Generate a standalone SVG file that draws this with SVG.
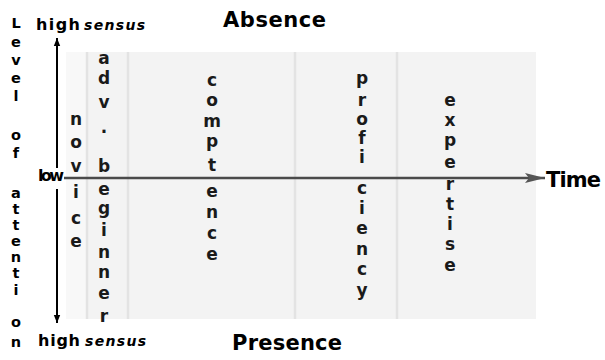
<svg xmlns="http://www.w3.org/2000/svg" width="605" height="360" viewBox="0 0 605 360">
<defs>
<style>
.lv{font-family:"DejaVu Sans",sans-serif;font-weight:bold;font-size:14.5px;fill:#000;text-anchor:middle}
.col{font-family:"DejaVu Sans",sans-serif;font-weight:bold;font-size:17px;fill:#1a1a1a;text-anchor:middle}
.hi{font-family:"DejaVu Sans",sans-serif;font-weight:bold;font-size:16px;fill:#000}
.se{font-family:"DejaVu Sans",sans-serif;font-weight:bold;font-style:italic;font-size:14px;fill:#000}
.big{font-family:"DejaVu Sans",sans-serif;font-weight:bold;font-size:21px;fill:#000}
.div{stroke:#e3e3e3;stroke-width:2.5}
</style>
<marker id="ah" viewBox="0 0 10 10" refX="10" refY="5" markerWidth="8" markerHeight="8" markerUnits="userSpaceOnUse" orient="auto"><path d="M0,1 L10,5 L0,9 Z" fill="#000"/></marker>
<marker id="ahg" viewBox="0 0 20 10" refX="20" refY="5" markerWidth="20" markerHeight="10" markerUnits="userSpaceOnUse" orient="auto"><path d="M0,0 L20,5 L0,10 L4,5 Z" fill="#555"/></marker>
</defs>
<rect width="605" height="360" fill="#fff"/>
<g id="panel">
<rect x="66" y="52" width="20" height="267" fill="#f8f8f8"/>
<rect x="86" y="52" width="450" height="267" fill="#f3f3f3"/>
<line class="div" x1="87" y1="52" x2="87" y2="319"/>
<line class="div" x1="128" y1="52" x2="128" y2="319"/>
<line class="div" x1="295" y1="52" x2="295" y2="319"/>
<line class="div" x1="397" y1="52" x2="397" y2="319"/>
</g>
<g id="connectors">
<line x1="57" y1="168" x2="57" y2="38" stroke="#000" stroke-width="2" marker-end="url(#ah)"/>
<line x1="57" y1="189" x2="57" y2="323" stroke="#000" stroke-width="2" marker-end="url(#ah)"/>
<line x1="64" y1="178" x2="545" y2="178" stroke="#4a4a4a" stroke-width="2.5" marker-end="url(#ahg)"/>
</g>
<g id="y-axis-label">
<text class="lv" x="16" y="28">L</text>
<text class="lv" x="16" y="47">e</text>
<text class="lv" x="16" y="65">v</text>
<text class="lv" x="16" y="83">e</text>
<text class="lv" x="16" y="101">l</text>
<text class="lv" x="16" y="140">o</text>
<text class="lv" x="16" y="158">f</text>
<text class="lv" x="16" y="198">a</text>
<text class="lv" x="16" y="214">t</text>
<text class="lv" x="16" y="230">t</text>
<text class="lv" x="16" y="246">e</text>
<text class="lv" x="16" y="262">n</text>
<text class="lv" x="16" y="278">t</text>
<text class="lv" x="16" y="295">i</text>
<text class="lv" x="16" y="327">o</text>
<text class="lv" x="16" y="347">n</text>
</g>
<g id="top-label">
<text class="hi" x="36" y="30" textLength="44">high</text>
<text class="se" x="84" y="30" textLength="61">sensus</text>
</g>
<g id="bottom-label">
<text class="hi" x="38" y="346" textLength="42">high</text>
<text class="se" x="85" y="346" textLength="61">sensus</text>
</g>
<g id="low-label"><text class="hi" x="38" y="181" font-size="14" textLength="26">low</text></g>
<g id="absence"><text class="big" x="223" y="27" textLength="103">Absence</text></g>
<g id="presence"><text class="big" x="232" y="350" textLength="110">Presence</text></g>
<g id="time"><text class="big" x="546" y="187" font-weight="normal" font-size="22" textLength="55">Time</text></g>
<g id="novice">
<text class="col" x="76" y="125">n</text>
<text class="col" x="76" y="148">o</text>
<text class="col" x="76" y="172">v</text>
<text class="col" x="76" y="198">i</text>
<text class="col" x="76" y="224">c</text>
<text class="col" x="76" y="247">e</text>
</g>
<g id="adv-beginner">
<text class="col" x="104" y="64">a</text>
<text class="col" x="104" y="84">d</text>
<text class="col" x="104" y="108">v</text>
<text class="col" x="104" y="133">.</text>
<text class="col" x="104" y="172">b</text>
<text class="col" x="104" y="195">e</text>
<text class="col" x="104" y="214">g</text>
<text class="col" x="104" y="236">i</text>
<text class="col" x="104" y="258">n</text>
<text class="col" x="104" y="278">n</text>
<text class="col" x="104" y="299">e</text>
<text class="col" x="104" y="322">r</text>
</g>
<g id="competence">
<text class="col" x="212" y="86">c</text>
<text class="col" x="212" y="106">o</text>
<text class="col" x="212" y="127">m</text>
<text class="col" x="212" y="147">p</text>
<text class="col" x="212" y="171">t</text>
<text class="col" x="212" y="197">e</text>
<text class="col" x="212" y="218">n</text>
<text class="col" x="212" y="239">c</text>
<text class="col" x="212" y="260">e</text>
</g>
<g id="proficiency">
<text class="col" x="362" y="84">p</text>
<text class="col" x="362" y="106">r</text>
<text class="col" x="362" y="125">o</text>
<text class="col" x="362" y="144">f</text>
<text class="col" x="362" y="163">i</text>
<text class="col" x="362" y="194">c</text>
<text class="col" x="362" y="214">i</text>
<text class="col" x="362" y="234">e</text>
<text class="col" x="362" y="255">n</text>
<text class="col" x="362" y="275">c</text>
<text class="col" x="362" y="296">y</text>
</g>
<g id="expertise">
<text class="col" x="450" y="106">e</text>
<text class="col" x="450" y="126">x</text>
<text class="col" x="450" y="146">p</text>
<text class="col" x="450" y="168">e</text>
<text class="col" x="450" y="190">r</text>
<text class="col" x="450" y="210">t</text>
<text class="col" x="450" y="230">i</text>
<text class="col" x="450" y="250">s</text>
<text class="col" x="450" y="271">e</text>
</g>
</svg>
